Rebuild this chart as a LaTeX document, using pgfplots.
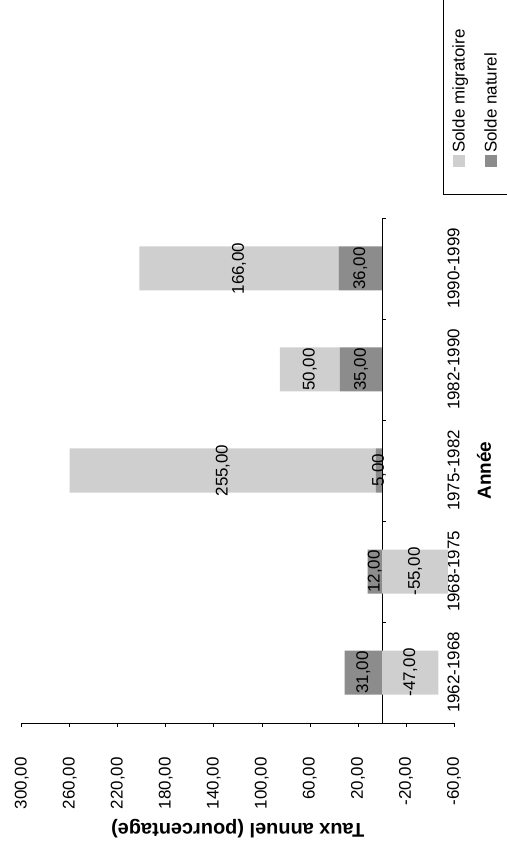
\documentclass[border=0pt]{standalone}
\usepackage{fontspec}
\setmainfont{Liberation Sans}
\usepackage{pgfplots}
\pgfplotsset{compat=1.18}

\definecolor{migr}{HTML}{CFCFCF}
\definecolor{natur}{HTML}{8C8C8C}

\begin{document}
\begin{tikzpicture}
\begin{scope}[rotate=90, transform shape]
\path[use as bounding box] (-128bp,-53bp) rectangle (723bp,454bp);
\begin{axis}[
  scale only axis,
  width=505bp, height=432.3bp,
  xmin=-0.5, xmax=4.5,
  ymin=-60, ymax=300,
  axis x line*=middle,
  axis y line*=left,
  axis line style={black, line width=0.7bp},
  tick align=outside,
  major tick length=4bp,
  tick style={black, line width=0.7bp},
  /pgf/number format/.cd, fixed, fixed zerofill, precision=2, use comma, assume math mode=true,
  /pgfplots/.cd,
  ytick={-60,-20,...,300},
  yticklabel style={font=\fontsize{17}{20}\selectfont, anchor=east, inner sep=0pt, xshift=-30bp},
  xtick={-0.5,0.5,...,4.5},
  xticklabels={},
  extra x ticks={0,1,2,3,4},
  extra x tick labels={1962-1968,1968-1975,1975-1982,1982-1990,1990-1999},
  extra x tick style={major tick length=0pt,
    xticklabel style={font=\fontsize{17}{20}\selectfont, anchor=center, inner sep=0pt, yshift=-71.5bp}},
  xlabel={Année},
  xlabel style={font=\bfseries\fontsize{19}{22}\selectfont, at={(axis description cs:0.5,-0.0694)}, anchor=center},
  ylabel={Taux annuel (pourcentage)},
  ylabel style={font=\bfseries\fontsize{20}{23}\selectfont, at={(axis description cs:-0.2089,0.5)}, anchor=center},
  ybar stacked,
  stack negative=separate,
  bar width=44bp,
  nodes near coords,
  every node near coord/.append style={font=\fontsize{17}{20}\selectfont, anchor=center, black},
  reverse legend,
  legend style={draw=black, line width=0.6bp, at={(axis description cs:1.0455,0.0254)}, anchor=north west,
    inner xsep=28bp, inner ysep=0pt,
    nodes={inner xsep=2bp, inner ysep=0pt, minimum height=32bp, font=\fontsize{17}{20}\selectfont},
    legend cell align=left},
  legend image code/.code={\fill[#1] (0bp,-6bp) rectangle (12bp,6bp);},
]
\addplot[fill=natur, draw=none] coordinates {(0,31) (1,12) (2,5) (3,35) (4,36)};
\addlegendentry{Solde naturel}
\addplot[fill=migr, draw=none] coordinates {(0,-47) (1,-55) (2,255) (3,50) (4,166)};
\addlegendentry{Solde migratoire}
\end{axis}
\end{scope}
\end{tikzpicture}
\end{document}
